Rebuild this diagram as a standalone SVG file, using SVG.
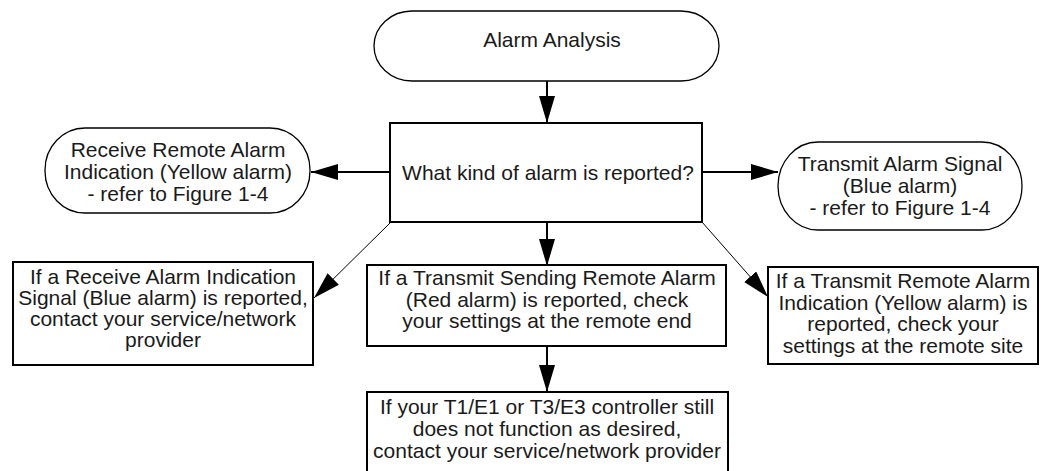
<svg xmlns="http://www.w3.org/2000/svg" width="1044" height="471" viewBox="0 0 1044 471">
  <style>
    .term { fill: #ffffff; stroke: #000000; stroke-width: 1.3; }
    .box { fill: #ffffff; stroke: #000000; stroke-width: 2; }
    .lbl { font-family: "Liberation Sans", Arial, sans-serif; font-size: 21px; fill: #1a1a1a; text-anchor: middle; }
    .flow { stroke: #000000; stroke-width: 2; fill: none; marker-end: url(#head); }
    .diag { stroke: #000000; stroke-width: 1; fill: none; marker-end: url(#head); }
  </style>
  <defs>
    <marker id="head" markerUnits="userSpaceOnUse" markerWidth="28" markerHeight="18" refX="27" refY="8" orient="auto">
      <path d="M0,0 L27,8 L0,16 z" fill="#000000"/>
    </marker>
  </defs>

  <rect width="1044" height="471" fill="#ffffff"/>

  <!-- connectors -->
  <g id="connectors">
    <line class="flow" x1="547" y1="81" x2="547" y2="123"/>
    <line class="flow" x1="390" y1="172" x2="311" y2="172"/>
    <line class="flow" x1="702" y1="172" x2="778" y2="172"/>
    <line class="diag" x1="391" y1="222" x2="314" y2="298"/>
    <line class="flow" x1="547" y1="222" x2="547" y2="266"/>
    <line class="diag" x1="702" y1="222" x2="768" y2="297"/>
    <line class="flow" x1="547" y1="346" x2="547" y2="392"/>
  </g>

  <!-- start -->
  <g id="start">
    <rect class="term" x="374" y="11" width="345" height="70" rx="38" ry="35"/>
    <text class="lbl" x="552" y="47">Alarm Analysis</text>
  </g>

  <!-- decision -->
  <g id="decision">
    <rect class="box" x="390" y="123" width="312" height="99"/>
    <text class="lbl" x="548" y="180">What kind of alarm is reported?</text>
  </g>

  <!-- yellow alarm reference -->
  <g id="receive-remote">
    <rect class="term" x="45" y="128" width="265" height="85" rx="40" ry="42"/>
    <text class="lbl" x="178" y="157">Receive Remote Alarm</text>
    <text class="lbl" x="178" y="179">Indication (Yellow alarm)</text>
    <text class="lbl" x="178" y="201">- refer to Figure 1-4</text>
  </g>

  <!-- blue alarm reference -->
  <g id="transmit-signal">
    <rect class="term" x="778" y="142" width="244" height="88" rx="40" ry="44"/>
    <text class="lbl" x="900" y="171">Transmit Alarm Signal</text>
    <text class="lbl" x="900" y="193">(Blue alarm)</text>
    <text class="lbl" x="900" y="215">- refer to Figure 1-4</text>
  </g>

  <!-- outcome: receive AIS -->
  <g id="receive-ais">
    <rect class="box" x="13" y="262" width="300" height="103"/>
    <text class="lbl" x="163" y="284">If a Receive Alarm Indication</text>
    <text class="lbl" x="163" y="305">Signal (Blue alarm) is reported,</text>
    <text class="lbl" x="163" y="326">contact your service/network</text>
    <text class="lbl" x="163" y="347">provider</text>
  </g>

  <!-- outcome: red alarm -->
  <g id="transmit-red">
    <rect class="box" x="367" y="265" width="359" height="81"/>
    <text class="lbl" x="547" y="285">If a Transmit Sending Remote Alarm</text>
    <text class="lbl" x="547" y="307">(Red alarm) is reported, check</text>
    <text class="lbl" x="547" y="328">your settings at the remote end</text>
  </g>

  <!-- outcome: yellow alarm -->
  <g id="transmit-yellow">
    <rect class="box" x="768" y="267" width="270" height="97"/>
    <text class="lbl" x="903" y="288">If a Transmit Remote Alarm</text>
    <text class="lbl" x="903" y="310">Indication (Yellow alarm) is</text>
    <text class="lbl" x="903" y="331">reported, check your</text>
    <text class="lbl" x="903" y="353">settings at the remote site</text>
  </g>

  <!-- final step -->
  <g id="still-failing">
    <rect class="box" x="367" y="392" width="361" height="82"/>
    <text class="lbl" x="547" y="414">If your T1/E1 or T3/E3 controller still</text>
    <text class="lbl" x="547" y="436">does not function as desired,</text>
    <text class="lbl" x="547" y="458">contact your service/network provider</text>
  </g>
</svg>
